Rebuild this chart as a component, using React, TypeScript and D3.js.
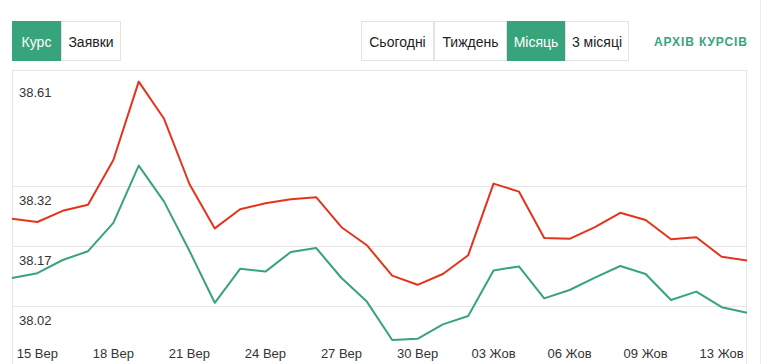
import React from "react";
import * as d3 from "d3";

const dates = [
  "14 Вер", "15 Вер", "16 Вер", "17 Вер", "18 Вер", "19 Вер", "20 Вер", "21 Вер",
  "22 Вер", "23 Вер", "24 Вер", "25 Вер", "26 Вер", "27 Вер", "28 Вер", "29 Вер",
  "30 Вер", "01 Жов", "02 Жов", "03 Жов", "04 Жов", "05 Жов", "06 Жов", "07 Жов",
  "08 Жов", "09 Жов", "10 Жов", "11 Жов", "13 Жов", "14 Жов",
];

// продаж (червона) і купівля (зелена)
const sell = [
  38.238, 38.23, 38.258, 38.273, 38.385, 38.581, 38.488, 38.325, 38.214, 38.262,
  38.277, 38.287, 38.292, 38.217, 38.172, 38.096, 38.073, 38.1, 38.147, 38.326,
  38.306, 38.19, 38.188, 38.217, 38.253, 38.235, 38.187, 38.192, 38.143, 38.134,
];
const buy = [
  38.09, 38.102, 38.135, 38.157, 38.228, 38.371, 38.281, 38.158, 38.028, 38.113,
  38.106, 38.155, 38.165, 38.09, 38.031, 37.935, 37.938, 37.974, 37.995, 38.109,
  38.119, 38.039, 38.06, 38.091, 38.12, 38.1, 38.035, 38.056, 38.017, 38.003,
];

const yTicks = [38.02, 38.17, 38.32, 38.61];
const leftTabs = ["Курс", "Заявки"];
const periodTabs = ["Сьогодні", "Тиждень", "Місяць", "3 місяці"];

const GREEN = "#37a47c";
const RED = "#e4341c";
const GRID = "#e6e6e6";

const W = 768;
const H = 364;

function Tabs({ items, widths, x0, active }: { items: string[]; widths: number[]; x0: number; active: number }) {
  let x = x0;
  return (
    <g>
      {items.map((t, i) => {
        const bx = x;
        x += widths[i];
        const on = i === active;
        return (
          <g key={t}>
            <rect
              x={bx + 0.5}
              y={21.5}
              width={widths[i] - 1}
              height={39}
              fill={on ? GREEN : "#fff"}
              stroke={on ? GREEN : "#e3e3e3"}
            />
            <text
              x={bx + widths[i] / 2}
              y={47}
              textAnchor="middle"
              fontSize={14}
              fill={on ? "#fff" : "#222"}
            >
              {t}
            </text>
          </g>
        );
      })}
    </g>
  );
}

export default function App() {
  const x = d3.scalePoint<string>().domain(dates).range([12, 747]);
  const y = d3.scaleLinear().domain([37.875, 38.61]).range([H, 70]);

  const line = d3
    .line<number>()
    .x((_, i) => x(dates[i]) as number)
    .y((d) => y(d));

  const top = y(yTicks[yTicks.length - 1]);

  return (
    <div style={{ position: "absolute", left: 0, top: 0 }}>
      <svg width={W} height={H} style={{ display: "block", fontFamily: "'Liberation Sans', Arial, sans-serif" }}>
        <rect width={W} height={H} fill="#fff" />
        <line x1={760.5} x2={760.5} y1={0} y2={H} stroke="#ececec" />

        <Tabs items={leftTabs} widths={[49, 60]} x0={12} active={0} />
        <Tabs items={periodTabs} widths={[73, 73, 58, 64]} x0={361} active={2} />
        <text x={654} y={45.5} fontSize={12} fontWeight="bold" letterSpacing={0.9} fill={GREEN}>
          АРХІВ КУРСІВ
        </text>

        {/* сітка */}
        {yTicks.map((v) => (
          <line key={v} x1={12} x2={747} y1={Math.round(y(v)) + 0.5} y2={Math.round(y(v)) + 0.5} stroke={GRID} />
        ))}
        <line x1={12.5} x2={12.5} y1={top} y2={H} stroke={GRID} />
        <line x1={746.5} x2={746.5} y1={top} y2={H} stroke={GRID} />

        {yTicks.map((v) => (
          <text key={v} x={19} y={Math.max(y(v) + 19, top + 27)} fontSize={13} fill="#333">
            {v.toFixed(2)}
          </text>
        ))}

        <path d={line(sell) ?? ""} fill="none" stroke={RED} strokeWidth={2} strokeLinejoin="round" />
        <path d={line(buy) ?? ""} fill="none" stroke={GREEN} strokeWidth={2} strokeLinejoin="round" />

        {dates.map((d, i) =>
          i % 3 === 1 ? (
            <text key={d} x={x(d)} y={358} textAnchor="middle" fontSize={13} fill="#333">
              {d}
            </text>
          ) : null
        )}
      </svg>
    </div>
  );
}
